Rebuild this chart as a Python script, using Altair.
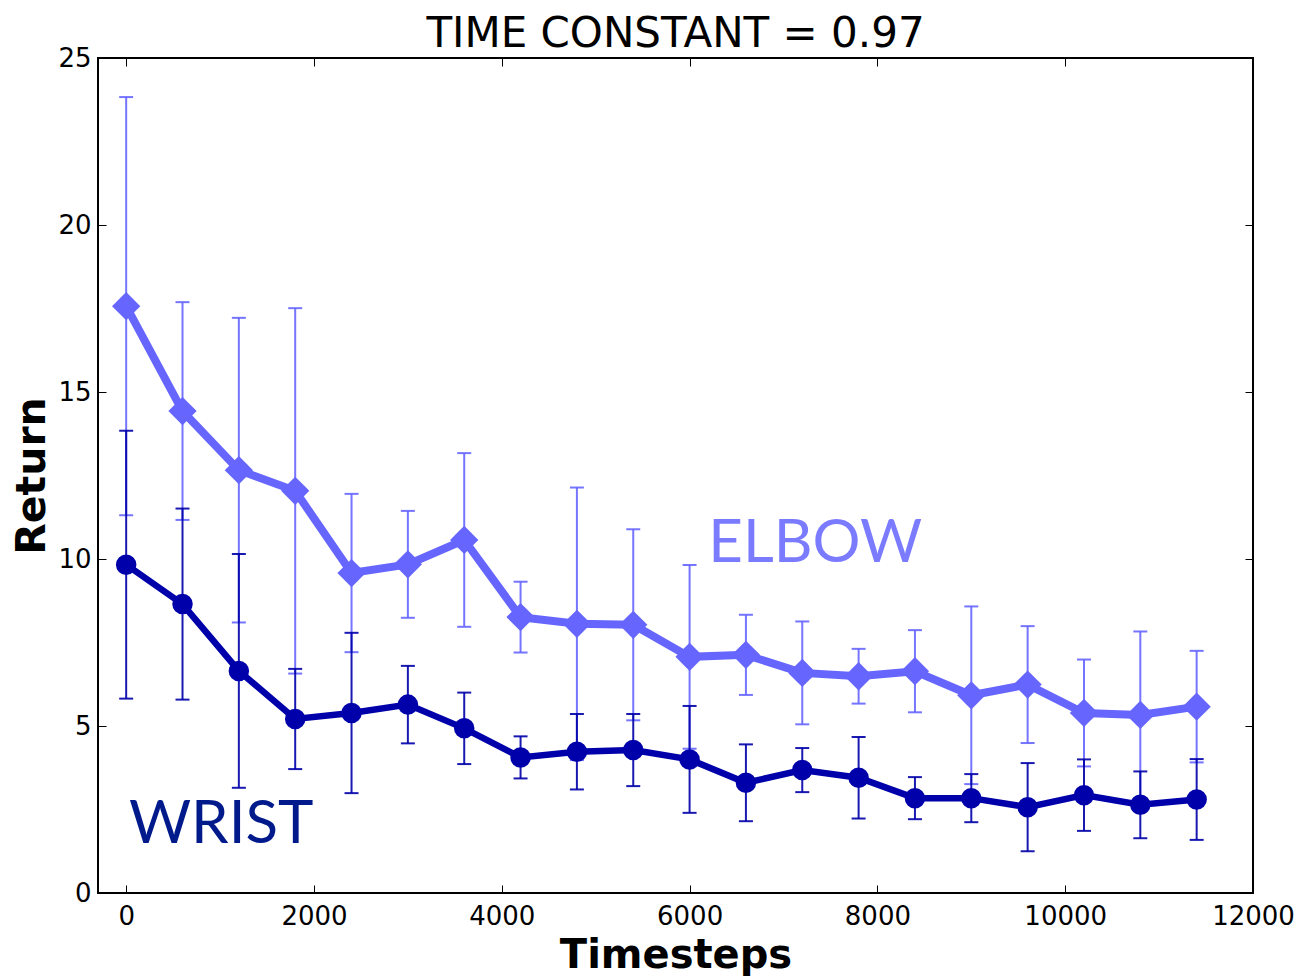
import altair as alt
import pandas as pd

timesteps = [0, 600, 1200, 1800, 2400, 3000, 3600, 4200, 4800, 5400,
             6000, 6600, 7200, 7800, 8400, 9000, 9600, 10200, 10800, 11400]
elbow_mean = [17.57, 14.43, 12.66, 12.04, 9.58, 9.84, 10.57, 8.26, 8.06, 8.03,
              7.07, 7.13, 6.59, 6.49, 6.64, 5.92, 6.24, 5.39, 5.33, 5.58]
elbow_err = [6.26, 3.26, 4.56, 5.47, 2.37, 1.60, 2.60, 1.06, 4.08, 2.86,
             2.75, 1.20, 1.54, 0.82, 1.23, 2.66, 1.75, 1.60, 2.50, 1.67]
wrist_mean = [9.83, 8.65, 6.65, 5.21, 5.39, 5.64, 4.93, 4.06, 4.23, 4.28,
              4.00, 3.30, 3.68, 3.45, 2.84, 2.84, 2.57, 2.93, 2.64, 2.80]
wrist_err = [4.01, 2.86, 3.50, 1.50, 2.40, 1.16, 1.07, 0.63, 1.13, 1.08,
             1.60, 1.15, 0.66, 1.22, 0.63, 0.72, 1.32, 1.07, 1.00, 1.21]

x_ticks = [0, 2000, 4000, 6000, 8000, 10000, 12000]
y_ticks = [0, 5, 10, 15, 20, 25]
x_domain = [-300, 12000]
y_domain = [0, 25]

labels = ["ELBOW", "WRIST"]
label_x = [6200, 30]
label_y = [9.9, 1.5]
label_colors = ["#7b7bff", "#001a8c"]

ELBOW_C = "#6666ff"
WRIST_C = "#0000aa"

def frame(mean, err):
    return pd.DataFrame({
        "t": timesteps,
        "m": mean,
        "lo": [m - e for m, e in zip(mean, err)],
        "hi": [m + e for m, e in zip(mean, err)],
    })

elbow = frame(elbow_mean, elbow_err)
wrist = frame(wrist_mean, wrist_err)

FONT = "DejaVu Sans"

xscale = alt.Scale(domain=x_domain, nice=False, zero=False)
yscale = alt.Scale(domain=y_domain, nice=False)

x_axis = alt.Axis(values=x_ticks, format="d", title="Timesteps", orient="bottom",
                  offset=-8, tickSize=8, tickColor="black", tickWidth=1, domain=False,
                  grid=False, labelPadding=10, labelFontSize=26, labelFont=FONT,
                  labelColor="black", titleFont=FONT, titleFontSize=40,
                  titleFontWeight="bold", titleColor="black", titlePadding=6,
                  labelFlush=False)
y_axis = alt.Axis(values=y_ticks, format="d", title="Return", orient="left",
                  offset=-8, tickSize=8, tickColor="black", tickWidth=1, domain=False,
                  grid=False, labelPadding=7, labelFontSize=26, labelFont=FONT,
                  labelColor="black", titleFont=FONT, titleFontSize=41,
                  titleFontWeight="bold", titleColor="black", titlePadding=4,
                  labelFlush=False)
x_axis_top = alt.Axis(values=x_ticks, orient="top", offset=-8, tickSize=8,
                      tickColor="black", tickWidth=1, domain=False, grid=False,
                      labels=False, title=None)
y_axis_right = alt.Axis(values=y_ticks, orient="right", offset=-8, tickSize=8,
                        tickColor="black", tickWidth=1, domain=False, grid=False,
                        labels=False, title=None)


def series_layers(df, color, shape, size, line_w, first=False):
    base = alt.Chart(df)
    if first:
        xenc = alt.X("t:Q", scale=xscale, axis=x_axis)
        yenc = alt.Y("m:Q", scale=yscale, axis=y_axis)
    else:
        xenc = alt.X("t:Q", scale=xscale, axis=None)
        yenc = alt.Y("m:Q", scale=yscale, axis=None)
    bars = base.mark_rule(color=color, strokeWidth=2, opacity=0.9).encode(
        x=alt.X("t:Q", scale=xscale, axis=None),
        y=alt.Y("lo:Q", scale=yscale, axis=None),
        y2="hi:Q",
    )
    cap_lo = base.mark_tick(color=color, orient="horizontal", size=14, thickness=2,
                            opacity=0.9).encode(
        x=alt.X("t:Q", scale=xscale, axis=None),
        y=alt.Y("lo:Q", scale=yscale, axis=None),
    )
    cap_hi = base.mark_tick(color=color, orient="horizontal", size=14, thickness=2,
                            opacity=0.9).encode(
        x=alt.X("t:Q", scale=xscale, axis=None),
        y=alt.Y("hi:Q", scale=yscale, axis=None),
    )
    line = base.mark_line(color=color, strokeWidth=line_w).encode(x=xenc, y=yenc)
    pts = base.mark_point(color=color, filled=True, opacity=1, shape=shape,
                          size=size).encode(
        x=alt.X("t:Q", scale=xscale, axis=None),
        y=alt.Y("m:Q", scale=yscale, axis=None),
    )
    return [bars, cap_lo, cap_hi, line, pts]


layers = []
layers += series_layers(elbow, ELBOW_C, "diamond", 800, 8, first=True)
layers += series_layers(wrist, WRIST_C, "circle", 420, 6.5)

lab_df = pd.DataFrame({"label": labels, "x": label_x, "y": label_y,
                       "c": label_colors})
texts = alt.Chart(lab_df).mark_text(font="Lato", fontSize=60, align="left",
                                    baseline="alphabetic").encode(
    x=alt.X("x:Q", scale=xscale, axis=None),
    y=alt.Y("y:Q", scale=yscale, axis=None),
    text="label:N",
    color=alt.Color("c:N", scale=None, legend=None),
)
layers.append(texts)

tick_df = pd.DataFrame({"t": x_ticks})
top_ticks = alt.Chart(tick_df).mark_point(opacity=0).encode(
    x=alt.X("t:Q", scale=xscale, axis=x_axis_top),
)
ytick_df = pd.DataFrame({"v": y_ticks})
right_ticks = alt.Chart(ytick_df).mark_point(opacity=0).encode(
    y=alt.Y("v:Q", scale=yscale, axis=y_axis_right),
)
layers += [top_ticks, right_ticks]

chart = alt.layer(*layers).properties(
    width=1155,
    height=835,
    title=alt.TitleParams("TIME CONSTANT = 0.97", font=FONT, fontSize=42,
                          fontWeight="normal", color="black", anchor="middle",
                          offset=10, dy=21),
    autosize=alt.AutoSizeParams(type="none"),
    padding={"left": 90, "top": 50, "right": 42, "bottom": 95},
).configure(background="white").configure_view(stroke="black", strokeWidth=2)

chart.save("out.html", embed_options={"renderer": "svg", "actions": False})
